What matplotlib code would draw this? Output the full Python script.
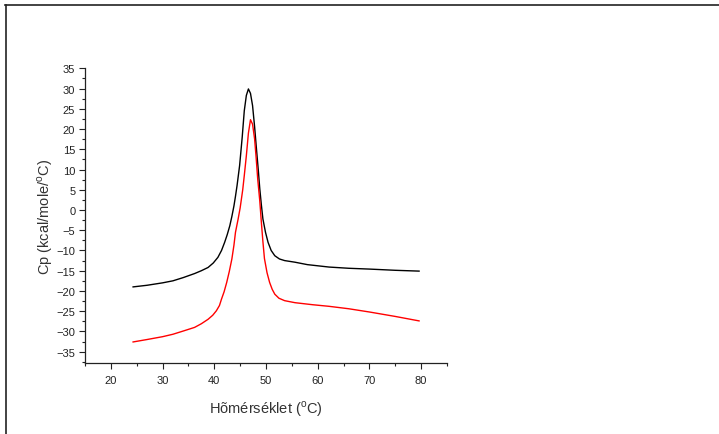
import matplotlib
matplotlib.use("Agg")
import matplotlib.pyplot as plt
from matplotlib.lines import Line2D
from matplotlib.ticker import MultipleLocator

plt.rcParams['font.family'] = ['Liberation Sans', 'DejaVu Sans']
plt.rcParams['mathtext.fontset'] = 'custom'
plt.rcParams['mathtext.rm'] = 'Liberation Sans'

# Black curve (T in °C, Cp)
black_t = [24.3, 27, 30, 32, 34, 36.2, 37.5, 38.8, 39.8, 40.7, 41.4, 42.0, 42.5, 43.0, 43.4, 43.8,
           44.1, 44.4, 44.9, 45.4, 45.8, 46.2, 46.6, 47.0, 47.4, 47.8, 48.1, 48.5, 48.8,
           49.1, 49.4, 49.9, 50.4, 51.0, 51.7, 52.6, 53.6, 55.6, 58, 62.2, 66, 70, 75, 79.6]
black_cp = [-19.0, -18.6, -18.0, -17.5, -16.7, -15.7, -15.0, -14.2, -13.1, -11.7, -10.0, -8.0, -6.1, -3.9, -1.6, 1.0,
            3.4, 6.0, 11.0, 18.0, 24.5, 28.3, 29.9, 28.8, 25.8, 20.5, 15.9, 10.0, 5.2,
            1.3, -2.2, -5.5, -8.0, -10.0, -11.3, -12.1, -12.5, -12.9, -13.5, -14.1, -14.4, -14.6, -14.9, -15.1]

# Red curve
red_t = [24.3, 27, 30, 32, 34, 36.2, 37.5, 38.8, 39.7, 40.4, 41.0, 41.4, 41.9, 42.4, 42.9, 43.4,
         43.8, 44.1, 44.6, 45.0, 45.5, 45.8, 46.2, 46.6, 47.0, 47.4, 47.8, 48.1, 48.4,
         48.8, 49.1, 49.4, 49.7, 50.2, 50.7, 51.2, 51.7, 52.5, 53.6, 55.6, 59, 62.2, 66, 70, 75, 79.6]
red_cp = [-32.6, -32.0, -31.3, -30.7, -29.9, -29.0, -28.1, -27.0, -26.0, -24.9, -23.6, -22.0, -20.2, -17.9, -15.2, -12.1,
          -8.7, -5.5, -2.3, 0.5, 5.0, 8.5, 13.4, 19.0, 22.3, 21.2, 17.5, 12.8, 7.6,
          2.2, -3.0, -7.8, -12.0, -15.5, -17.9, -19.6, -20.8, -21.8, -22.4, -22.9, -23.4, -23.8, -24.4, -25.2, -26.3, -27.4]

x_ticks = [20, 30, 40, 50, 60, 70, 80]
y_ticks = [-35, -30, -25, -20, -15, -10, -5, 0, 5, 10, 15, 20, 25, 30, 35]

fig = plt.figure(figsize=(7.19, 4.35), dpi=100)
ax = fig.add_axes([85/719, 1-364/435, (447-85)/719, (364-69.3)/435])

ax.plot(black_t, black_cp, color='black', lw=1.0, solid_joinstyle='round')
ax.plot(red_t, red_cp, color='#ff0000', lw=1.0, solid_joinstyle='round')

ax.set_xlim(15, 85)
ax.set_ylim(-37.8, 35)
ax.set_xticks(x_ticks)
ax.set_yticks(y_ticks)
ax.xaxis.set_minor_locator(MultipleLocator(5))
ax.yaxis.set_minor_locator(MultipleLocator(2.5))
ax.tick_params(which='major', direction='out', length=4, width=0.8, labelsize=8, colors='#222222', pad=3)
ax.tick_params(which='minor', direction='out', length=2.5, width=0.8, colors='#222222')
ax.tick_params(axis='x', pad=5)
for s in ['top', 'right']:
    ax.spines[s].set_visible(False)
for s in ['left', 'bottom']:
    ax.spines[s].set_linewidth(0.9)
    ax.spines[s].set_color('#222222')

ax.set_xlabel('Hõmérséklet ($^{\\mathrm{o}}$C)', fontsize=10.5, color='#333333', labelpad=9)
ax.set_ylabel('Cp (kcal/mole/$^{\\mathrm{o}}$C)', fontsize=10.5, color='#333333', labelpad=1)

# outer frame lines (top and left)
fig.add_artist(Line2D([5/719, 1.0], [1-6/435, 1-6/435], transform=fig.transFigure, color='#222222', lw=1.2))
fig.add_artist(Line2D([6/719, 6/719], [0, 1-6/435], transform=fig.transFigure, color='#222222', lw=1.2))

fig.savefig('out.png', dpi=100)
